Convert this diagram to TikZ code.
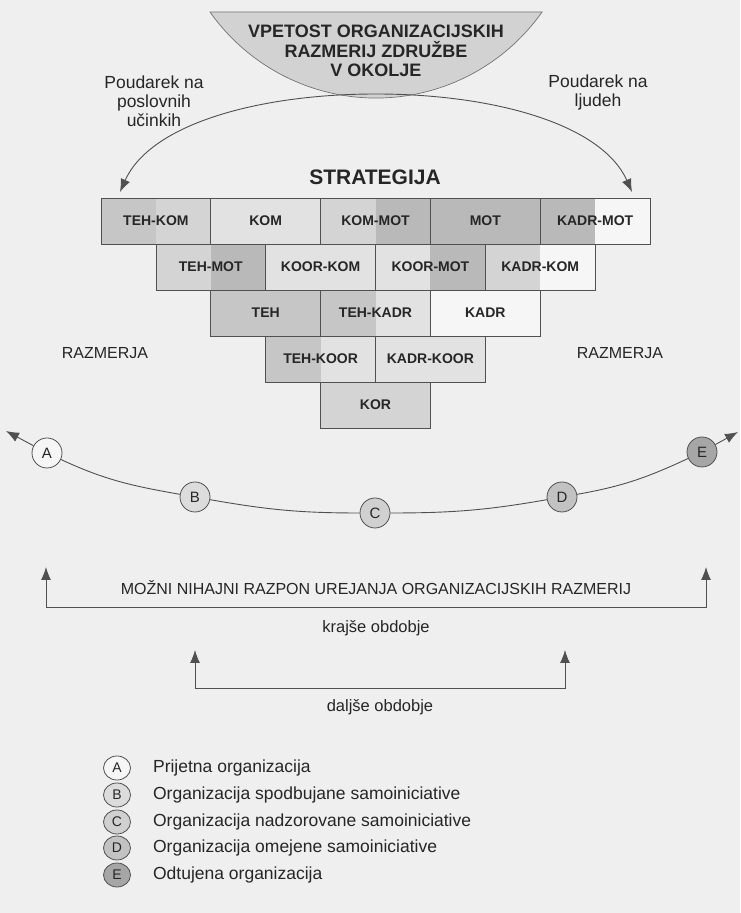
\documentclass[tikz,border=0pt]{standalone}
\usepackage{fontspec}
\setmainfont{Liberation Sans}
\usetikzlibrary{arrows.meta,positioning,shapes.geometric}
\definecolor{paper}{HTML}{EFEFEF}
\definecolor{ink}{HTML}{262626}
\definecolor{edge}{HTML}{505050}
\definecolor{bowlfill}{HTML}{D2D2D2}
\definecolor{gA}{HTML}{B9B9B9}
\definecolor{gB}{HTML}{C6C6C6}
\definecolor{gC}{HTML}{D4D4D4}
\definecolor{gD}{HTML}{E2E2E2}
\definecolor{gE}{HTML}{F6F6F6}
\definecolor{dB}{HTML}{DCDCDC}
\definecolor{dC}{HTML}{D0D0D0}
\definecolor{dD}{HTML}{C2C2C2}
\definecolor{dE}{HTML}{A6A6A6}

\begin{document}
\begin{tikzpicture}[x=1pt, y=1pt,
  cell/.style 2 args={draw=edge, line width=0.8pt, minimum width=109.8pt, minimum height=46pt, inner sep=0pt, text=ink, font=\fontsize{14}{16}\selectfont\bfseries,
    path picture={\fill[#1] (path picture bounding box.south west) rectangle (path picture bounding box.north);
                  \fill[#2] (path picture bounding box.south) rectangle (path picture bounding box.north east);}},
  headline/.style={text=ink, align=center, inner sep=0pt, font=\fontsize{18}{19.5}\selectfont\bfseries},
  side/.style={text=ink, align=center, inner sep=0pt, font=\fontsize{17.5}{19}\selectfont},
  note/.style={text=ink, inner sep=0pt, font=\fontsize{16}{18}\selectfont},
  dot/.style={circle, draw=edge, line width=0.8pt, minimum size=30pt, inner sep=0pt, text=ink, font=\fontsize{15}{15}\selectfont},
  key/.style={ellipse, draw=edge, line width=0.8pt, minimum width=27pt, minimum height=24pt, inner sep=0pt, text=ink, font=\fontsize{14}{14}\selectfont},
  legtext/.style={text=ink, inner sep=0pt, anchor=west, font=\fontsize{17.5}{19}\selectfont},
  arrow/.style={-{Latex[length=13pt, width=10pt]}, line width=0.9pt, draw=edge},
  twoway/.style={{Latex[length=13pt, width=10pt]}-{Latex[length=13pt, width=10pt]}, line width=0.9pt, draw=edge},
  osc/.style={line width=0.9pt, draw=edge}
]
  \path[use as bounding box, fill=paper] (0,0) rectangle (740,913);

  \fill[bowlfill, draw=edge!80, line width=0.7pt] (210,901) arc[start angle=215.2, end angle=324.8, radius=203.2pt] -- cycle;
  \node[headline] (vpetost) at (376,862) {VPETOST ORGANIZACIJSKIH\\RAZMERIJ ZDRUŽBE\\V OKOLJE};

  \node[side] (posl) at (154,811.5) {Poudarek na\\poslovnih\\učinkih};
  \node[side] (ljud) at (598,821) {Poudarek na\\ljudeh};
  \coordinate (vrh) at (376,819);
  \coordinate (tipposl) at (120,721);
  \coordinate (tipljud) at (632,721);
  \draw[twoway] (tipposl) to[out=66, in=180, out distance=75pt, in distance=116pt] (vrh)
                          to[out=0, in=114, out distance=116pt, in distance=75pt] (tipljud);

  \node[headline, font=\fontsize{21}{24}\selectfont\bfseries] (strategija) at (375,736) {STRATEGIJA};

  \node[cell={gB}{gC}] (tehkom)   at (155.9,692) {TEH-KOM};
  \node[cell={gD}{gD}] (kom)      at (265.7,692) {KOM};
  \node[cell={gC}{gA}] (kommot)   at (375.5,692) {KOM-MOT};
  \node[cell={gA}{gA}] (mot)      at (485.3,692) {MOT};
  \node[cell={gA}{gE}] (kadrmot)  at (595.1,692) {KADR-MOT};

  \node[cell={gC}{gA}] (tehmot)   at (210.8,646) {TEH-MOT};
  \node[cell={gD}{gD}] (koorkom)  at (320.6,646) {KOOR-KOM};
  \node[cell={gD}{gA}] (koormot)  at (430.4,646) {KOOR-MOT};
  \node[cell={gC}{gE}] (kadrkom)  at (540.2,646) {KADR-KOM};

  \node[cell={gB}{gB}] (teh)      at (265.7,600) {TEH};
  \node[cell={gB}{gD}] (tehkadr)  at (375.5,600) {TEH-KADR};
  \node[cell={gE}{gE}] (kadr)     at (485.3,600) {KADR};

  \node[cell={gB}{gD}] (tehkoor)  at (320.6,554) {TEH-KOOR};
  \node[cell={gD}{gD}] (kadrkoor) at (430.4,554) {KADR-KOOR};

  \node[cell={gC}{gC}] (kor)      at (375.5,508) {KOR};

  \node[note] (razl) at (105,560) {RAZMERJA};
  \node[note] (razr) at (620,560) {RAZMERJA};

  \node[dot, fill=gE] (a) at (47,460)  {A};
  \node[dot, fill=dB] (b) at (195,416) {B};
  \node[dot, fill=dC] (c) at (375,400) {C};
  \node[dot, fill=dD] (d) at (562,416) {D};
  \node[dot, fill=dE] (e) at (702,461) {E};
  \coordinate (levo) at (6,482);
  \coordinate (desno) at (738,481);
  \draw[arrow] (a) -- (levo);
  \draw[osc] (a) to[out=-25, in=170] (b) to[out=-10, in=180] (c) to[out=0, in=190] (d) to[out=10, in=205] (e);
  \draw[arrow] (e) -- (desno);

  \coordinate (k1lt) at (46,346);
  \coordinate (k1l)  at (46,306);
  \coordinate (k1r)  at (706,306);
  \coordinate (k1rt) at (706,346);
  \draw[twoway] (k1lt) -- (k1l) -- (k1r) -- (k1rt);
  \node[note] (razpon) at (376,325) {MOŽNI NIHAJNI RAZPON UREJANJA ORGANIZACIJSKIH RAZMERIJ};
  \node[note, font=\fontsize{16.5}{18}\selectfont] (krajse) at (376,285) {krajše obdobje};

  \coordinate (k2lt) at (195,263);
  \coordinate (k2l)  at (195,225);
  \coordinate (k2r)  at (565,225);
  \coordinate (k2rt) at (565,263);
  \draw[twoway] (k2lt) -- (k2l) -- (k2r) -- (k2rt);
  \node[note, font=\fontsize{16.5}{18}\selectfont] (daljse) at (380,206) {daljše obdobje};

  \node[key, fill=gE] (la) at (117,145) {A};
  \node[key, fill=dB] (lb) at (117,118) {B};
  \node[key, fill=dC] (lc) at (117,91)  {C};
  \node[key, fill=dD] (ld) at (117,65)  {D};
  \node[key, fill=dE] (le) at (117,38)  {E};
  \node[legtext, right=22pt of la] (ta) {Prijetna organizacija};
  \node[legtext, right=22pt of lb] (tb) {Organizacija spodbujane samoiniciative};
  \node[legtext, right=22pt of lc] (tc) {Organizacija nadzorovane samoiniciative};
  \node[legtext, right=22pt of ld] (td) {Organizacija omejene samoiniciative};
  \node[legtext, right=22pt of le] (te) {Odtujena organizacija};
\end{tikzpicture}
\end{document}
